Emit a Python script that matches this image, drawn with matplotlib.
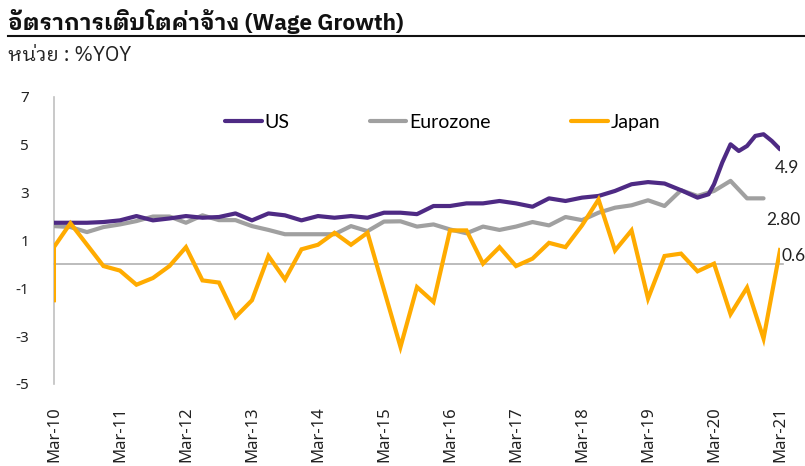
import matplotlib
matplotlib.use("Agg")
import matplotlib.pyplot as plt
from matplotlib.lines import Line2D

# Months since Mar-10 and values (%YOY).
us_months = [0, 3, 6, 9, 12, 15, 18, 21, 24, 27, 30, 33, 36, 39, 42, 45, 48, 51, 54, 57,
             60, 63, 66, 69, 72, 75, 78, 81, 84, 87, 90, 93, 96, 99, 102, 105, 108, 111,
             114, 117, 119, 120, 121.5, 123, 124.5, 126, 127.5, 129, 130.5, 132]
us_values = [1.74, 1.74, 1.74, 1.77, 1.84, 2.02, 1.84, 1.92, 2.02, 1.95, 1.98, 2.13, 1.84,
             2.13, 2.05, 1.84, 2.02, 1.95, 2.02, 1.95, 2.16, 2.16, 2.1, 2.44, 2.44, 2.55,
             2.55, 2.65, 2.55, 2.41, 2.76, 2.65, 2.79, 2.86, 3.07, 3.35, 3.44, 3.38, 3.1,
             2.79, 2.93, 3.35, 4.26, 5.02, 4.74, 4.95, 5.37, 5.44, 5.16, 4.81]

ez_months = list(range(0, 130, 3))
ez_values = [1.6, 1.56, 1.35, 1.56, 1.67, 1.81, 2.0, 2.0, 1.74, 2.05, 1.85, 1.85, 1.6,
             1.44, 1.26, 1.26, 1.26, 1.26, 1.6, 1.39, 1.79, 1.8, 1.58, 1.67, 1.46, 1.3,
             1.58, 1.44, 1.58, 1.77, 1.63, 1.98, 1.85, 2.16, 2.37, 2.47, 2.68, 2.44, 3.1,
             2.86, 3.07, 3.49, 2.76, 2.76]

jp_months = [0, 0, 3, 9, 12, 15, 18, 21, 24, 27, 30, 33, 36, 39, 42, 45, 48, 51, 54, 57,
             63, 66, 69, 72, 75, 78, 81, 84, 87, 90, 93, 96, 99, 102, 105, 108, 111, 114,
             117, 120, 123, 126, 129, 132]
jp_values = [-1.5, 0.72, 1.72, -0.07, -0.26, -0.85, -0.57, -0.07, 0.72, -0.67, -0.76,
             -2.2, -1.5, 0.35, -0.63, 0.63, 0.82, 1.32, 0.82, 1.32, -3.45, -0.95, -1.57,
             1.42, 1.42, 0.03, 0.72, -0.07, 0.24, 0.9, 0.72, 1.63, 2.71, 0.58, 1.42, -1.43,
             0.35, 0.45, -0.29, 0.03, -2.08, -0.97, -3.1, 0.6]

tick_months = list(range(0, 133, 12))
tick_labels = ["Mar-10", "Mar-11", "Mar-12", "Mar-13", "Mar-14", "Mar-15", "Mar-16",
               "Mar-17", "Mar-18", "Mar-19", "Mar-20", "Mar-21"]
y_ticks = [-5, -3, -1, 1, 3, 5, 7]

last_labels = ["4.9", "2.80", "0.6"]

thai_fam = ["IBM Plex Sans Thai Looped", "Noto Sans Thai Looped", "DejaVu Sans"]
tick_fam = ["Noto Sans", "DejaVu Sans"]
label_fam = ["Lato", "DejaVu Sans"]
plt.rcParams["font.family"] = tick_fam

fig = plt.figure(figsize=(8.05, 4.66), dpi=100)
ax = fig.add_axes([0.067, 0.176, 0.902, 0.616])

ax.plot(us_months, us_values, color="#4e2a84", lw=3, solid_capstyle="round",
        solid_joinstyle="round", label="US", zorder=4)
ax.plot(ez_months, ez_values, color="#a0a0a0", lw=3, solid_capstyle="round",
        solid_joinstyle="round", label="Eurozone", zorder=3)
ax.plot(jp_months, jp_values, color="#ffab00", lw=3, solid_joinstyle="miter",
        label="Japan", zorder=5)

ax.axhline(0, color="#b0b0b0", lw=1.2, xmax=1.004, clip_on=False, zorder=2)

ax.set_xlim(0, 132)
ax.set_ylim(-5, 7)
ax.set_yticks(y_ticks)
ax.set_yticklabels([str(v) for v in y_ticks], fontsize=11, color="#222222")
ax.set_xticks(tick_months)
ax.set_xticklabels(tick_labels, rotation=90, fontsize=12, color="#222222")
ax.tick_params(length=0)
ax.tick_params(axis="y", pad=18)
ax.tick_params(axis="x", pad=16)

for side in ["top", "right", "bottom"]:
    ax.spines[side].set_visible(False)
ax.spines["left"].set_color("#c0c0c0")
ax.spines["left"].set_linewidth(1.2)

# Labels for the last value of each series.
ax.annotate(last_labels[0], (us_months[-1], us_values[-1]), xytext=(-4, -17),
            textcoords="offset points", fontsize=12.5, color="#222222", family=label_fam)
ax.annotate(last_labels[1], (ez_months[-1], ez_values[-1]), xytext=(2, -19),
            textcoords="offset points", fontsize=12.5, color="#222222", family=label_fam)
ax.annotate(last_labels[2], (jp_months[-1], jp_values[-1]), xytext=(1, -8),
            textcoords="offset points", fontsize=12.5, color="#222222", family=label_fam)

leg = ax.legend(loc="center left", bbox_to_anchor=((225 - 54) / 726, 0.91), ncol=3,
                frameon=False, prop={"family": label_fam, "size": 14},
                handlelength=1.9, handletextpad=0.15, columnspacing=4.1,
                borderpad=0, borderaxespad=0)
for h in leg.get_lines():
    h.set_solid_capstyle("round")

fig.text(0.01, 0.953, "อัตราการเติบโตค่าจ้าง (Wage Growth)", fontsize=16.2,
         fontweight="bold", va="center", ha="left", color="#111111", family=thai_fam)
fig.add_artist(Line2D([0.01, 1.0], [0.922, 0.922], color="#111111", lw=1.5))
fig.text(0.01, 0.88, "หน่วย : %YOY", fontsize=14.5, va="center", ha="left",
         color="#222222", family=thai_fam)

fig.savefig("out.png", dpi=100)
